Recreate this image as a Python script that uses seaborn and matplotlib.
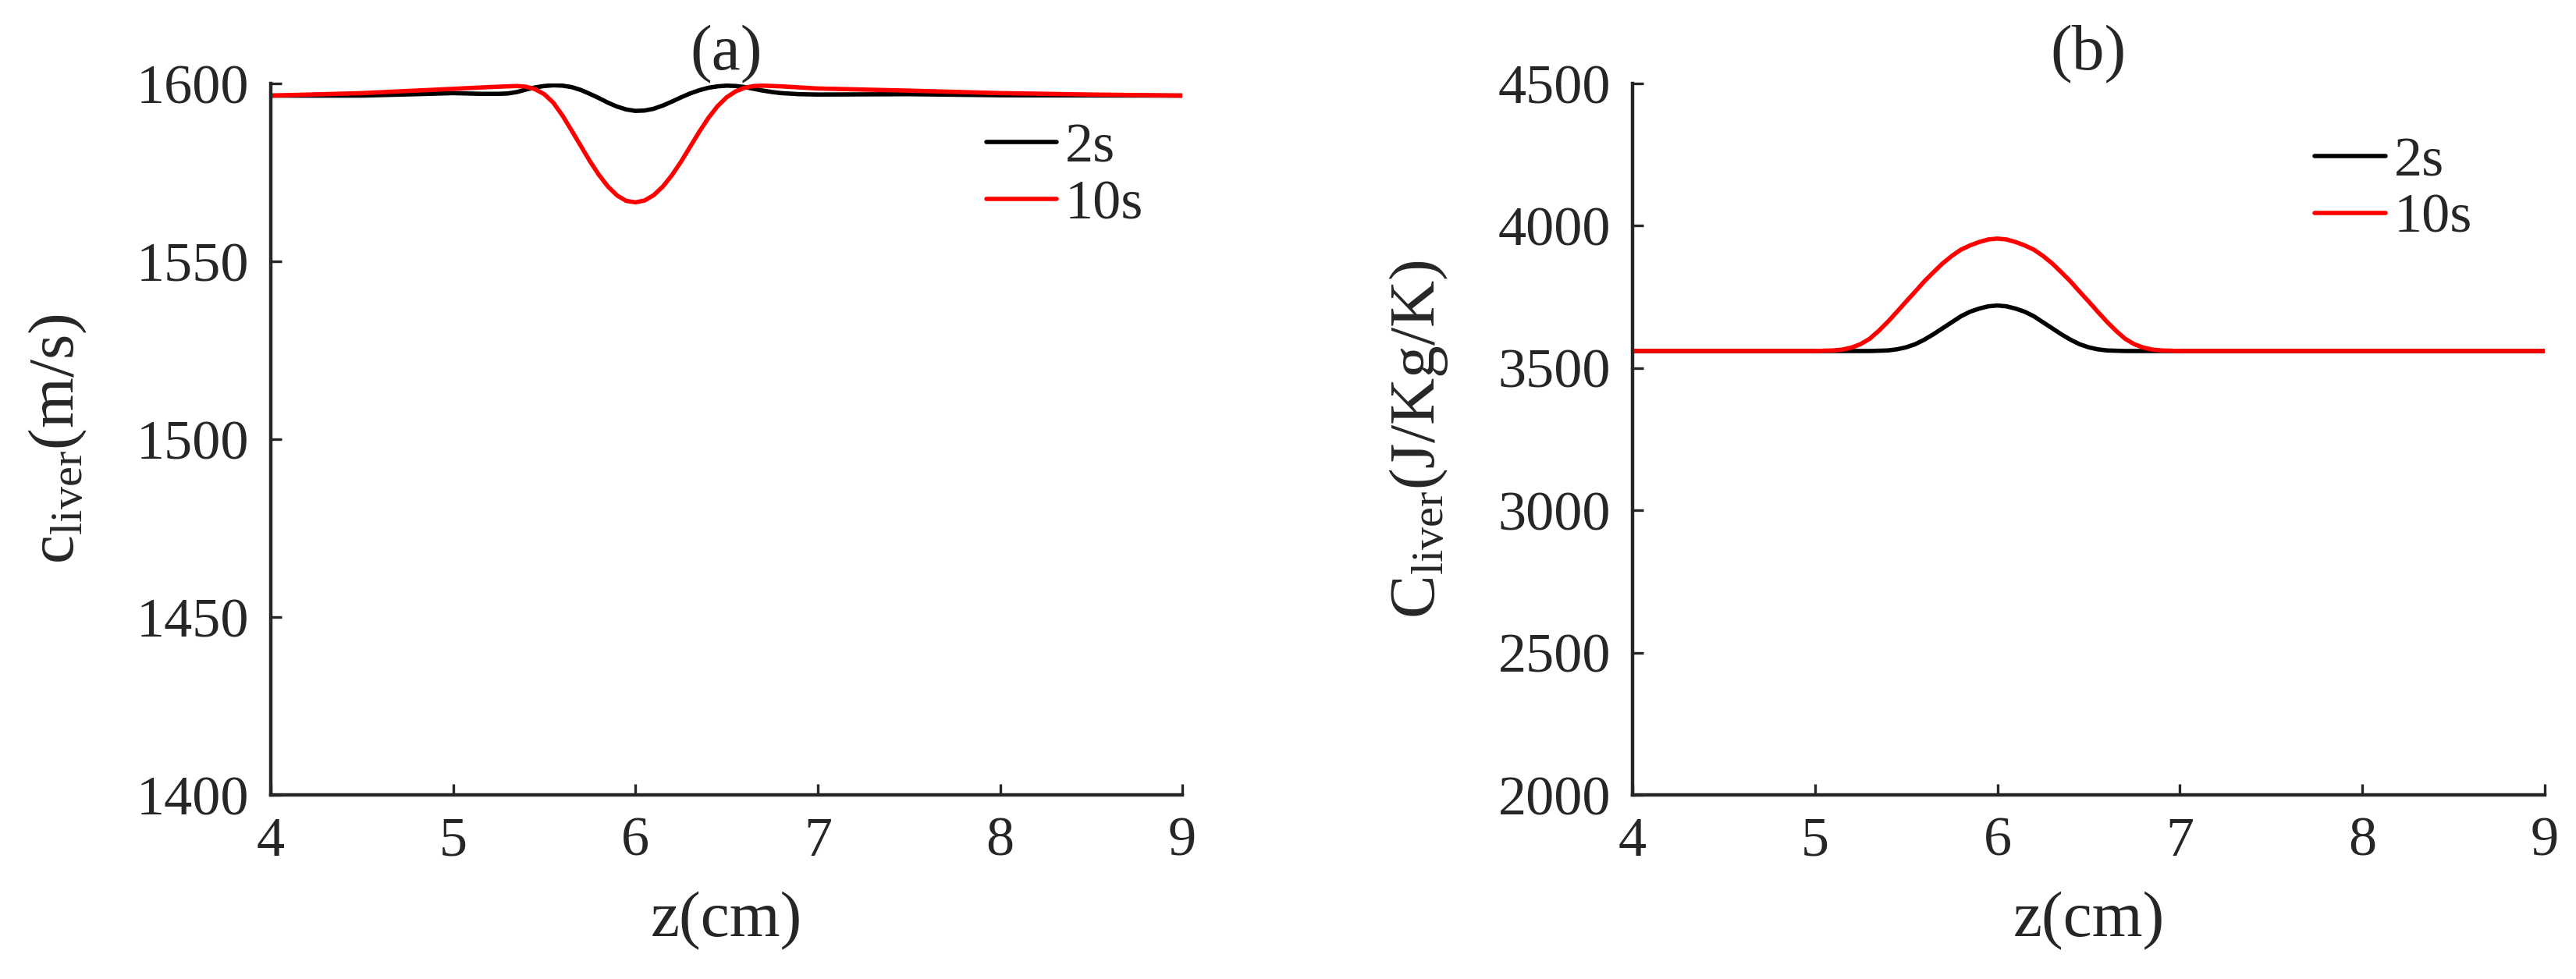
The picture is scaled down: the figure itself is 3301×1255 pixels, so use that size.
import pandas as pd
import matplotlib
matplotlib.use('Agg')
import matplotlib.pyplot as plt
import seaborn as sns

# ----------------------------
# Data
# ----------------------------
# (a) speed of sound in liver
z_a_2s = [4.0, 4.5, 4.8, 5.0, 5.15, 5.25, 5.30, 5.35, 5.40, 5.45, 5.50, 5.55,
          5.60, 5.65, 5.70, 5.75, 5.80, 5.85, 5.90, 5.95, 6.00, 6.05, 6.10,
          6.15, 6.20, 6.25, 6.30, 6.35, 6.40, 6.45, 6.50, 6.55, 6.60, 6.65,
          6.70, 6.75, 6.80, 6.90, 7.0, 7.5, 8.0, 9.0]
c_2s = [1596.6, 1596.6, 1597.0, 1597.3, 1597.1, 1597.1, 1597.2, 1597.6, 1598.3,
        1598.9, 1599.3, 1599.5, 1599.4, 1599.0, 1598.2, 1597.1, 1595.9, 1594.6,
        1593.5, 1592.7, 1592.3, 1592.4, 1592.9, 1593.8, 1594.9, 1596.1, 1597.2,
        1598.1, 1598.8, 1599.2, 1599.4, 1599.3, 1599.0, 1598.5, 1598.0, 1597.6,
        1597.3, 1597.0, 1596.9, 1597.0, 1596.7, 1596.6]

z_a_10s = [4.0, 4.5, 5.0, 5.2, 5.30, 5.35, 5.40, 5.45, 5.50, 5.55, 5.60, 5.65,
           5.70, 5.75, 5.80, 5.85, 5.90, 5.95, 6.00, 6.05, 6.10, 6.15, 6.20,
           6.25, 6.30, 6.35, 6.40, 6.45, 6.50, 6.55, 6.60, 6.65, 6.70, 6.80,
           7.0, 7.5, 8.0, 8.5, 9.0]
c_10s = [1596.6, 1597.3, 1598.5, 1599.0, 1599.2, 1599.3, 1599.1, 1598.4, 1597.0,
         1594.6, 1591.0, 1586.8, 1582.5, 1578.2, 1574.3, 1571.0, 1568.5, 1567.0,
         1566.6, 1567.1, 1568.6, 1571.0, 1574.2, 1578.0, 1582.2, 1586.4, 1590.3,
         1593.6, 1596.1, 1597.8, 1598.8, 1599.3, 1599.4, 1599.2, 1598.6, 1598.0,
         1597.3, 1596.9, 1596.6]

# (b) specific heat of liver
z_b_2s = [4.0, 5.0, 5.30, 5.40, 5.45, 5.50, 5.55, 5.60, 5.65, 5.70, 5.75, 5.80,
          5.85, 5.90, 5.95, 6.00, 6.05, 6.10, 6.15, 6.20, 6.25, 6.30, 6.35,
          6.40, 6.45, 6.50, 6.55, 6.60, 6.70, 7.0, 9.0]
C_2s = [3560, 3560, 3560, 3562, 3566, 3573, 3584, 3600, 3619, 3640, 3661, 3682,
        3698, 3709, 3717, 3720, 3717, 3709, 3698, 3682, 3661, 3640, 3619, 3600,
        3584, 3573, 3566, 3562, 3560, 3560, 3560]

z_b_10s = [4.0, 5.0, 5.10, 5.15, 5.20, 5.25, 5.30, 5.35, 5.40, 5.45, 5.50, 5.55,
           5.60, 5.65, 5.70, 5.75, 5.80, 5.85, 5.90, 5.95, 6.00, 6.05, 6.10,
           6.15, 6.20, 6.25, 6.30, 6.35, 6.40, 6.45, 6.50, 6.55, 6.60, 6.65,
           6.70, 6.75, 6.80, 6.85, 6.90, 7.0, 9.0]
C_10s = [3560, 3560, 3562, 3565, 3572, 3584, 3603, 3631, 3663, 3698, 3734, 3769,
         3805, 3837, 3868, 3894, 3916, 3931, 3943, 3952, 3955, 3952, 3943, 3931,
         3916, 3894, 3868, 3837, 3805, 3769, 3734, 3698, 3663, 3631, 3603, 3584,
         3572, 3565, 3562, 3560, 3560]

times = ['2s', '10s']
colors = {'2s': 'black', '10s': 'red'}

df_a = pd.concat([
    pd.DataFrame({'z': z_a_2s, 'val': c_2s, 'time': '2s'}),
    pd.DataFrame({'z': z_a_10s, 'val': c_10s, 'time': '10s'}),
])
df_b = pd.concat([
    pd.DataFrame({'z': z_b_2s, 'val': C_2s, 'time': '2s'}),
    pd.DataFrame({'z': z_b_10s, 'val': C_10s, 'time': '10s'}),
])

# ----------------------------
# Style
# ----------------------------
sns.set_style('ticks')
plt.rcParams['font.family'] = ['Liberation Serif', 'DejaVu Serif']
plt.rcParams['mathtext.fontset'] = 'custom'
plt.rcParams['mathtext.rm'] = 'Liberation Serif'
plt.rcParams['mathtext.it'] = 'Liberation Serif:italic'

fig = plt.figure(figsize=(16.505, 6.275), dpi=200)
ax_a = fig.add_axes([0.1051, 0.188, 0.3539, 0.7267])
ax_b = fig.add_axes([0.6337, 0.188, 0.3542, 0.7267])

panels = [
    (ax_a, df_a, '(a)', r'c$_{\rm liver}$(m/s)', (1400, 1600), range(1400, 1601, 50), (0.785, 0.945)),
    (ax_b, df_b, '(b)', r'C$_{\rm liver}$(J/Kg/K)', (2000, 4500), range(2000, 4501, 500), (0.748, 0.926)),
]

for ax, df, title, ylabel, ylim, yticks, leg_pos in panels:
    sns.lineplot(data=df, x='z', y='val', hue='time', hue_order=times,
                 palette=colors, linewidth=2.0, ax=ax, legend=False,
                 estimator=None, sort=False)
    ax.set_xlim(4, 9)
    ax.set_ylim(*ylim)
    ax.set_xticks(range(4, 10))
    ax.set_yticks(list(yticks))
    ax.tick_params(direction='in', length=5, width=1.2, labelsize=26, pad=10,
                   colors='#262626')
    for s in ['top', 'right']:
        ax.spines[s].set_visible(False)
    for s in ['left', 'bottom']:
        ax.spines[s].set_linewidth(1.6)
        ax.spines[s].set_color('#262626')
    ax.set_xlabel('z(cm)', fontsize=30, labelpad=11)
    ax.set_ylabel(ylabel, fontsize=30, labelpad=22)
    ax.set_title(title, fontsize=30, pad=2)
    ax.legend(ax.get_lines(), times, loc='upper left', bbox_to_anchor=leg_pos,
              frameon=False, fontsize=26, handlelength=1.25, handletextpad=0.15,
              labelspacing=0.1, borderpad=0, borderaxespad=0)

fig.savefig('out.png', dpi=200)
